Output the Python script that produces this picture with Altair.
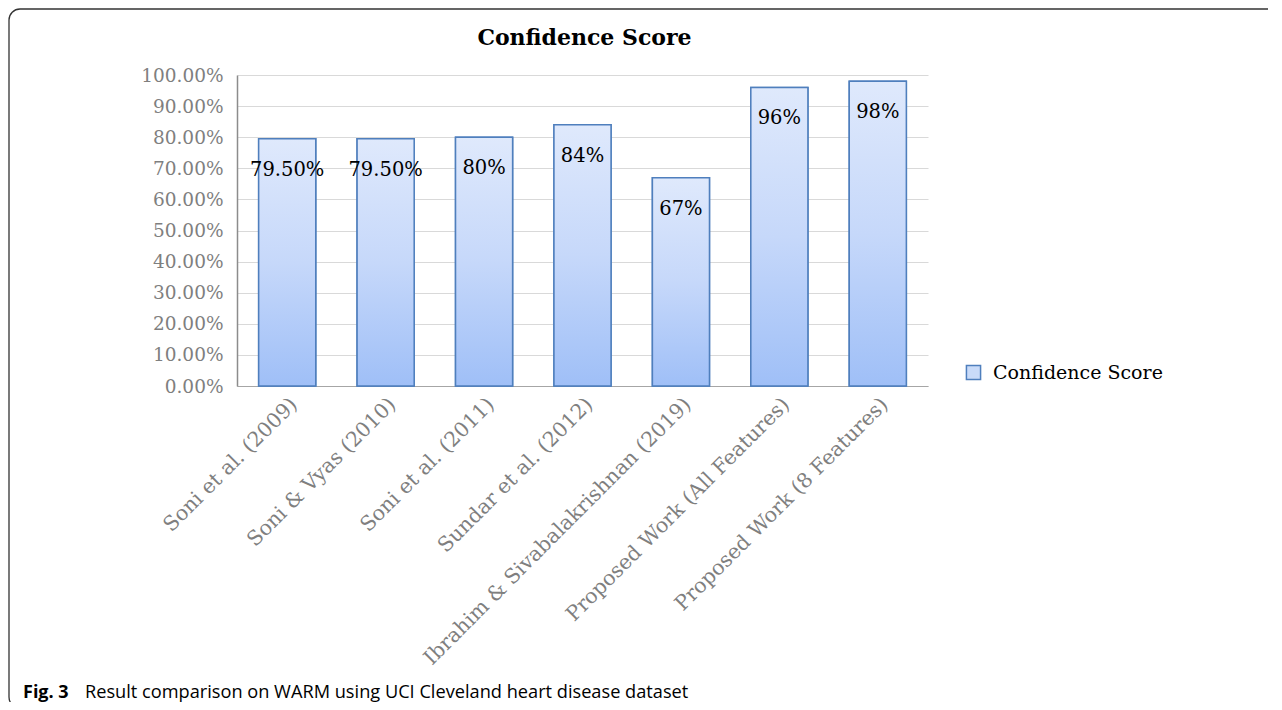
import altair as alt
import pandas as pd

categories = [
    "Soni et al. (2009)",
    "Soni & Vyas (2010)",
    "Soni et al. (2011)",
    "Sundar et al. (2012)",
    "Ibrahim & Sivabalakrishnan (2019)",
    "Proposed Work (All Features)",
    "Proposed Work (8 Features)",
]
values = [0.795, 0.795, 0.80, 0.84, 0.67, 0.96, 0.98]
labels = ["79.50%", "79.50%", "80%", "84%", "67%", "96%", "98%"]
series = ["Confidence Score"] * len(categories)
y_ticks = [i / 10 for i in range(11)]
chart_title = ["Confidence Score"]
caption_bold = ["Fig. 3"]
caption_text = ["Result comparison on WARM using UCI Cleveland heart disease dataset"]

df = pd.DataFrame({"cat": categories, "val": values, "lab": labels, "series": series})
cap_df = pd.DataFrame({"b": caption_bold, "t": caption_text, "title": chart_title})

SERIF = "DejaVu Serif"
W, H = 691, 311

gradient = alt.Gradient(
    gradient="linear",
    stops=[
        alt.GradientStop(color="#dfe9fc", offset=0),
        alt.GradientStop(color="#c6d8fa", offset=0.5),
        alt.GradientStop(color="#9fbff7", offset=1),
    ],
    x1=0, x2=0, y1=0, y2=1,
)

xenc = alt.X(
    "cat:N",
    sort=categories,
    scale=alt.Scale(paddingInner=0.42, paddingOuter=0.22),
    axis=alt.Axis(
        title=None, labelAngle=-45, labelFont=SERIF, labelFontSize=20.5,
        labelColor="#7f7f7f", ticks=False, domainColor="#a6a6a6",
        labelPadding=8, labelLimit=500, domainWidth=1.2, grid=False,
    ),
)
yenc = alt.Y(
    "val:Q",
    scale=alt.Scale(domain=[0, 1], nice=False),
    axis=alt.Axis(
        title=None, format=".2%", values=y_ticks, labelFont=SERIF,
        labelFontSize=18.5, labelColor="#7f7f7f", ticks=False,
        domainColor="#8c8c8c", domainWidth=1.5, gridColor="#d9d9d9",
        gridWidth=1.2, labelPadding=14,
    ),
)

base = alt.Chart(df)

legend_bars = base.mark_bar(stroke="#4f7fbd", strokeWidth=1.5).encode(
    x=xenc, y=yenc,
    color=alt.Color(
        "series:N",
        scale=alt.Scale(range=["#c9dbf9"]),
        legend=alt.Legend(
            title=None, orient="none", legendX=727, legendY=288,
            symbolType="square", symbolSize=200, symbolStrokeColor="#4f7fbd",
            symbolStrokeWidth=1.5, labelFont=SERIF, labelFontSize=19,
            labelColor="#000000", labelOffset=10, padding=0, labelLimit=400,
        ),
    ),
)

bars = base.mark_bar(fill=gradient, stroke="#4f7fbd", strokeWidth=1.5).encode(
    x=xenc, y=yenc
)

texts = base.mark_text(
    font=SERIF, fontSize=19.5, color="#000000", baseline="middle", dy=31
).encode(x=xenc, y=yenc, text="lab:N")

frame = alt.Chart(cap_df).mark_rect(
    fillOpacity=0, stroke="#333333", strokeWidth=1.3, cornerRadius=11
).encode(
    x=alt.value(-228), x2=alt.value(1300), y=alt.value(-66), y2=alt.value(633)
)

title_mark = alt.Chart(cap_df).mark_text(
    font=SERIF, fontSize=22, fontWeight="bold", align="center",
    baseline="middle", color="#000000"
).encode(x=alt.value(W / 2 + 2), y=alt.value(-37), text="title:N")

cap_b = alt.Chart(cap_df).mark_text(
    font="Open Sans", fontSize=18, fontWeight="bold", align="left",
    baseline="middle", color="#000000"
).encode(x=alt.value(-214), y=alt.value(618), text="b:N")

cap_t = alt.Chart(cap_df).mark_text(
    font="Open Sans", fontSize=18.2, align="left", baseline="middle", color="#000000"
).encode(x=alt.value(-152), y=alt.value(618), text="t:N")

chart = alt.layer(frame, legend_bars, bars, texts, title_mark, cap_b, cap_t).properties(
    width=W,
    height=H,
    padding={"left": 229, "top": 67, "right": 340, "bottom": 316},
    autosize="none",
    background="white",
).configure_view(stroke=None, strokeWidth=0)

chart.save("out.html", embed_options={"renderer": "svg", "actions": False})
